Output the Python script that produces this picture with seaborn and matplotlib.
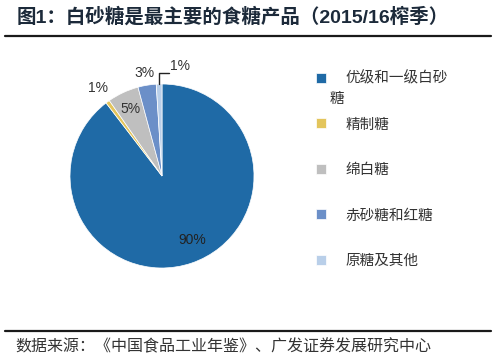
import matplotlib
matplotlib.use("Agg")
import numpy as np
import matplotlib.pyplot as plt
import seaborn as sns
from matplotlib.lines import Line2D
from matplotlib.font_manager import FontProperties

# ---- data ----
categories = ["优级和一级白砂糖", "精制糖", "绵白糖", "赤砂糖和红糖", "原糖及其他"]
shares = [89.6, 0.7, 5.5, 3.2, 1.0]
pct_labels = ["90%", "1%", "5%", "3%", "1%"]
title = "图1：白砂糖是最主要的食糖产品（2015/16榨季）"
source = "数据来源：《中国食品工业年鉴》、广发证券发展研究中心"

# ---- style ----
colors = ["#1f6aa6", "#e3c55c", "#bfbfbf", "#6b8fc8", "#b9cfe9"]
label_r = [0.77, 1.18, 0.80, 1.14, None]
label_dtheta = [6.8, 0.0, 0.0, 0.0, 0.0]
label_colors = ["#222222", "#333333", "#333333", "#333333", "#333333"]

sns.set_theme(style="white")
plt.rcParams['font.family'] = ['Liberation Sans', 'Noto Sans CJK SC', 'DejaVu Sans']

W, H = 500, 362
fig = plt.figure(figsize=(W / 100, H / 100), dpi=100)
cx, cy, R = 162, 176, 92
ax = fig.add_axes([(cx - R) / W, 1 - (cy + R) / H, 2 * R / W, 2 * R / H])
wedges, _ = ax.pie(shares, colors=colors, startangle=90, counterclock=False, radius=1,
                   wedgeprops=dict(edgecolor='white', linewidth=0.5))
ax.set_xlim(-1, 1)
ax.set_ylim(-1, 1)
ax.set_aspect('equal')
ax.axis('off')

txt_color = '#333333'
for i, w in enumerate(wedges):
    mid = np.deg2rad((w.theta1 + w.theta2) / 2 + label_dtheta[i])
    if label_r[i] is not None:
        ax.text(label_r[i] * np.cos(mid), label_r[i] * np.sin(mid), pct_labels[i],
                ha='center', va='center', fontsize=10, color=label_colors[i])
    else:
        ax.annotate(pct_labels[i], xy=(np.cos(mid), np.sin(mid)),
                    xytext=(np.cos(mid) + 0.12, np.sin(mid) + 0.12),
                    ha='left', va='bottom', fontsize=10, color=label_colors[i],
                    arrowprops=dict(arrowstyle='-', connectionstyle='angle,angleA=0,angleB=90,rad=0',
                                    relpos=(0, 0), patchA=None, shrinkA=1, shrinkB=0,
                                    color='#222222', lw=1.0))

# legend
cjk = FontProperties(family=['Noto Sans CJK SC'], size=10.5)
leg_labels = [categories[0][:-1]] + categories[1:]
leg = fig.legend(wedges, leg_labels, loc='upper left',
                 bbox_to_anchor=(316 / W, 1 - 71.5 / H), frameon=False,
                 borderpad=0, borderaxespad=0, handlelength=0.7, handleheight=0.7,
                 handletextpad=1.3, labelspacing=2.16, prop=cjk)
for t in leg.get_texts():
    t.set_color(txt_color)

fig.canvas.draw()
bb = leg.get_texts()[0].get_window_extent()
fig.text(330 / W, ((bb.y0 + bb.y1) / 2 - 20) / H, categories[0][-1],
         fontproperties=cjk, color=txt_color, va='center', ha='left')

# title, rules and source
fig.text(17 / W, 1 - 17 / H, title, fontsize=14, fontweight='bold', color='#1c2a3a',
         va='center', ha='left')
fig.add_artist(Line2D([5 / W, 491 / W], [1 - 35.5 / H] * 2, transform=fig.transFigure,
                      color='#1a1a1a', lw=1.6))
fig.add_artist(Line2D([5 / W, 491 / W], [1 - 330.5 / H] * 2, transform=fig.transFigure,
                      color='#1a1a1a', lw=1.6))
fig.text(15 / W, 1 - 347 / H, source, fontproperties=FontProperties(family=['Noto Sans CJK SC'], size=11.5),
         color=txt_color, va='center', ha='left')

fig.savefig('out.png', dpi=100)
